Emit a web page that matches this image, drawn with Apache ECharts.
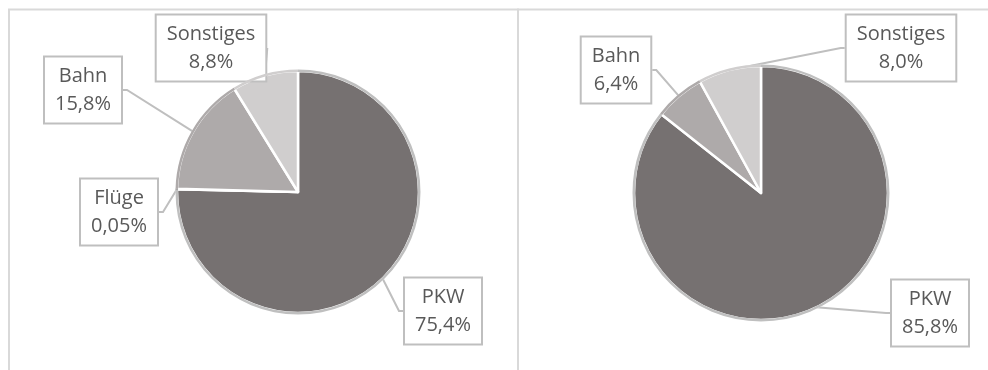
<!DOCTYPE html>
<html>
<head>
    <meta charset="utf-8">
    <title>Verkehrsmittel Anteile</title>
    <script src="https://cdn.jsdelivr.net/npm/echarts/dist/echarts.min.js"></script>
    <style>
        html, body { margin: 0; padding: 0; background: #fff; }
    </style>
</head>
<body>
    <div id="main" style="width: 988px;height:370px;"></div>
    <script type="text/javascript">
        // left chart
        var leftNames = ['PKW', 'Flüge', 'Bahn', 'Sonstiges'];
        var leftValues = [75.4, 0.05, 15.8, 8.8];
        // right chart
        var rightNames = ['PKW', 'Bahn', 'Sonstiges'];
        var rightValues = [85.8, 6.4, 8.0];

        var colorOf = {
            'PKW': '#767171',
            'Flüge': '#3B3838',
            'Bahn': '#AEAAAA',
            'Sonstiges': '#D0CECE'
        };

        // label box centres (layout only)
        var leftLabelPos = [[443, 311], [119, 212], [83, 90], [211, 48]];
        var rightLabelPos = [[930, 313], [616, 70], [901, 48]];

        function fmt(v) {
            return v.toFixed(v < 0.1 ? 2 : 1).replace('.', ',') + '%';
        }

        function pieData(names, values) {
            return names.map(function (n, i) {
                return { name: n, value: values[i], itemStyle: { color: colorOf[n] } };
            });
        }

        function ringData(names, values) {
            return names.map(function (n, i) {
                return {
                    name: n, value: values[i],
                    itemStyle: { color: n === 'PKW' ? '#BFBFBF' : colorOf[n] }
                };
            });
        }

        function mainPie(names, values, center, r, pos) {
            return {
                type: 'pie',
                center: center,
                radius: r,
                startAngle: 90,
                clockwise: true,
                animation: false,
                avoidLabelOverlap: false,
                data: pieData(names, values),
                itemStyle: { borderColor: '#fff', borderWidth: 2.5 },
                label: {
                    show: true,
                    position: 'outside',
                    formatter: function (p) { return p.name + '\n' + fmt(p.value); },
                    fontFamily: 'Open Sans',
                    fontSize: 20,
                    lineHeight: 28,
                    color: '#595959',
                    align: 'center',
                    backgroundColor: '#fff',
                    borderColor: '#BFBFBF',
                    borderWidth: 2,
                    padding: [5, 10, 4, 10]
                },
                labelLine: {
                    show: true,
                    length: 5,
                    length2: 4,
                    lineStyle: { color: '#BFBFBF', width: 2 }
                },
                labelLayout: function (params) {
                    var p = pos[params.dataIndex];
                    return { x: p[0], y: p[1], align: 'center', verticalAlign: 'middle' };
                },
                emphasis: { disabled: true }
            };
        }

        function ringPie(names, values, center, r) {
            return {
                type: 'pie',
                center: center,
                radius: [r - 1, r + 1.5],
                startAngle: 90,
                clockwise: true,
                animation: false,
                silent: true,
                z: 3,
                data: ringData(names, values),
                label: { show: false },
                labelLine: { show: false },
                itemStyle: { borderWidth: 0 }
            };
        }

        var myChart = echarts.init(document.getElementById('main'));

        var option = {
            backgroundColor: '#fff',
            graphic: [
                {
                    type: 'rect', z: 0, silent: true,
                    shape: { x: 9, y: 9.5, width: 509, height: 420 },
                    style: { fill: 'none', stroke: '#D9D9D9', lineWidth: 2 }
                },
                {
                    type: 'rect', z: 0, silent: true,
                    shape: { x: 518, y: 9.5, width: 500, height: 420 },
                    style: { fill: 'none', stroke: '#D9D9D9', lineWidth: 2 }
                }
            ],
            series: [
                mainPie(leftNames, leftValues, [298, 192], 121, leftLabelPos),
                ringPie(leftNames, leftValues, [298, 192], 121),
                mainPie(rightNames, rightValues, [761, 193], 127, rightLabelPos),
                ringPie(rightNames, rightValues, [761, 193], 127)
            ]
        };

        myChart.setOption(option);
    </script>
</body>
</html>
